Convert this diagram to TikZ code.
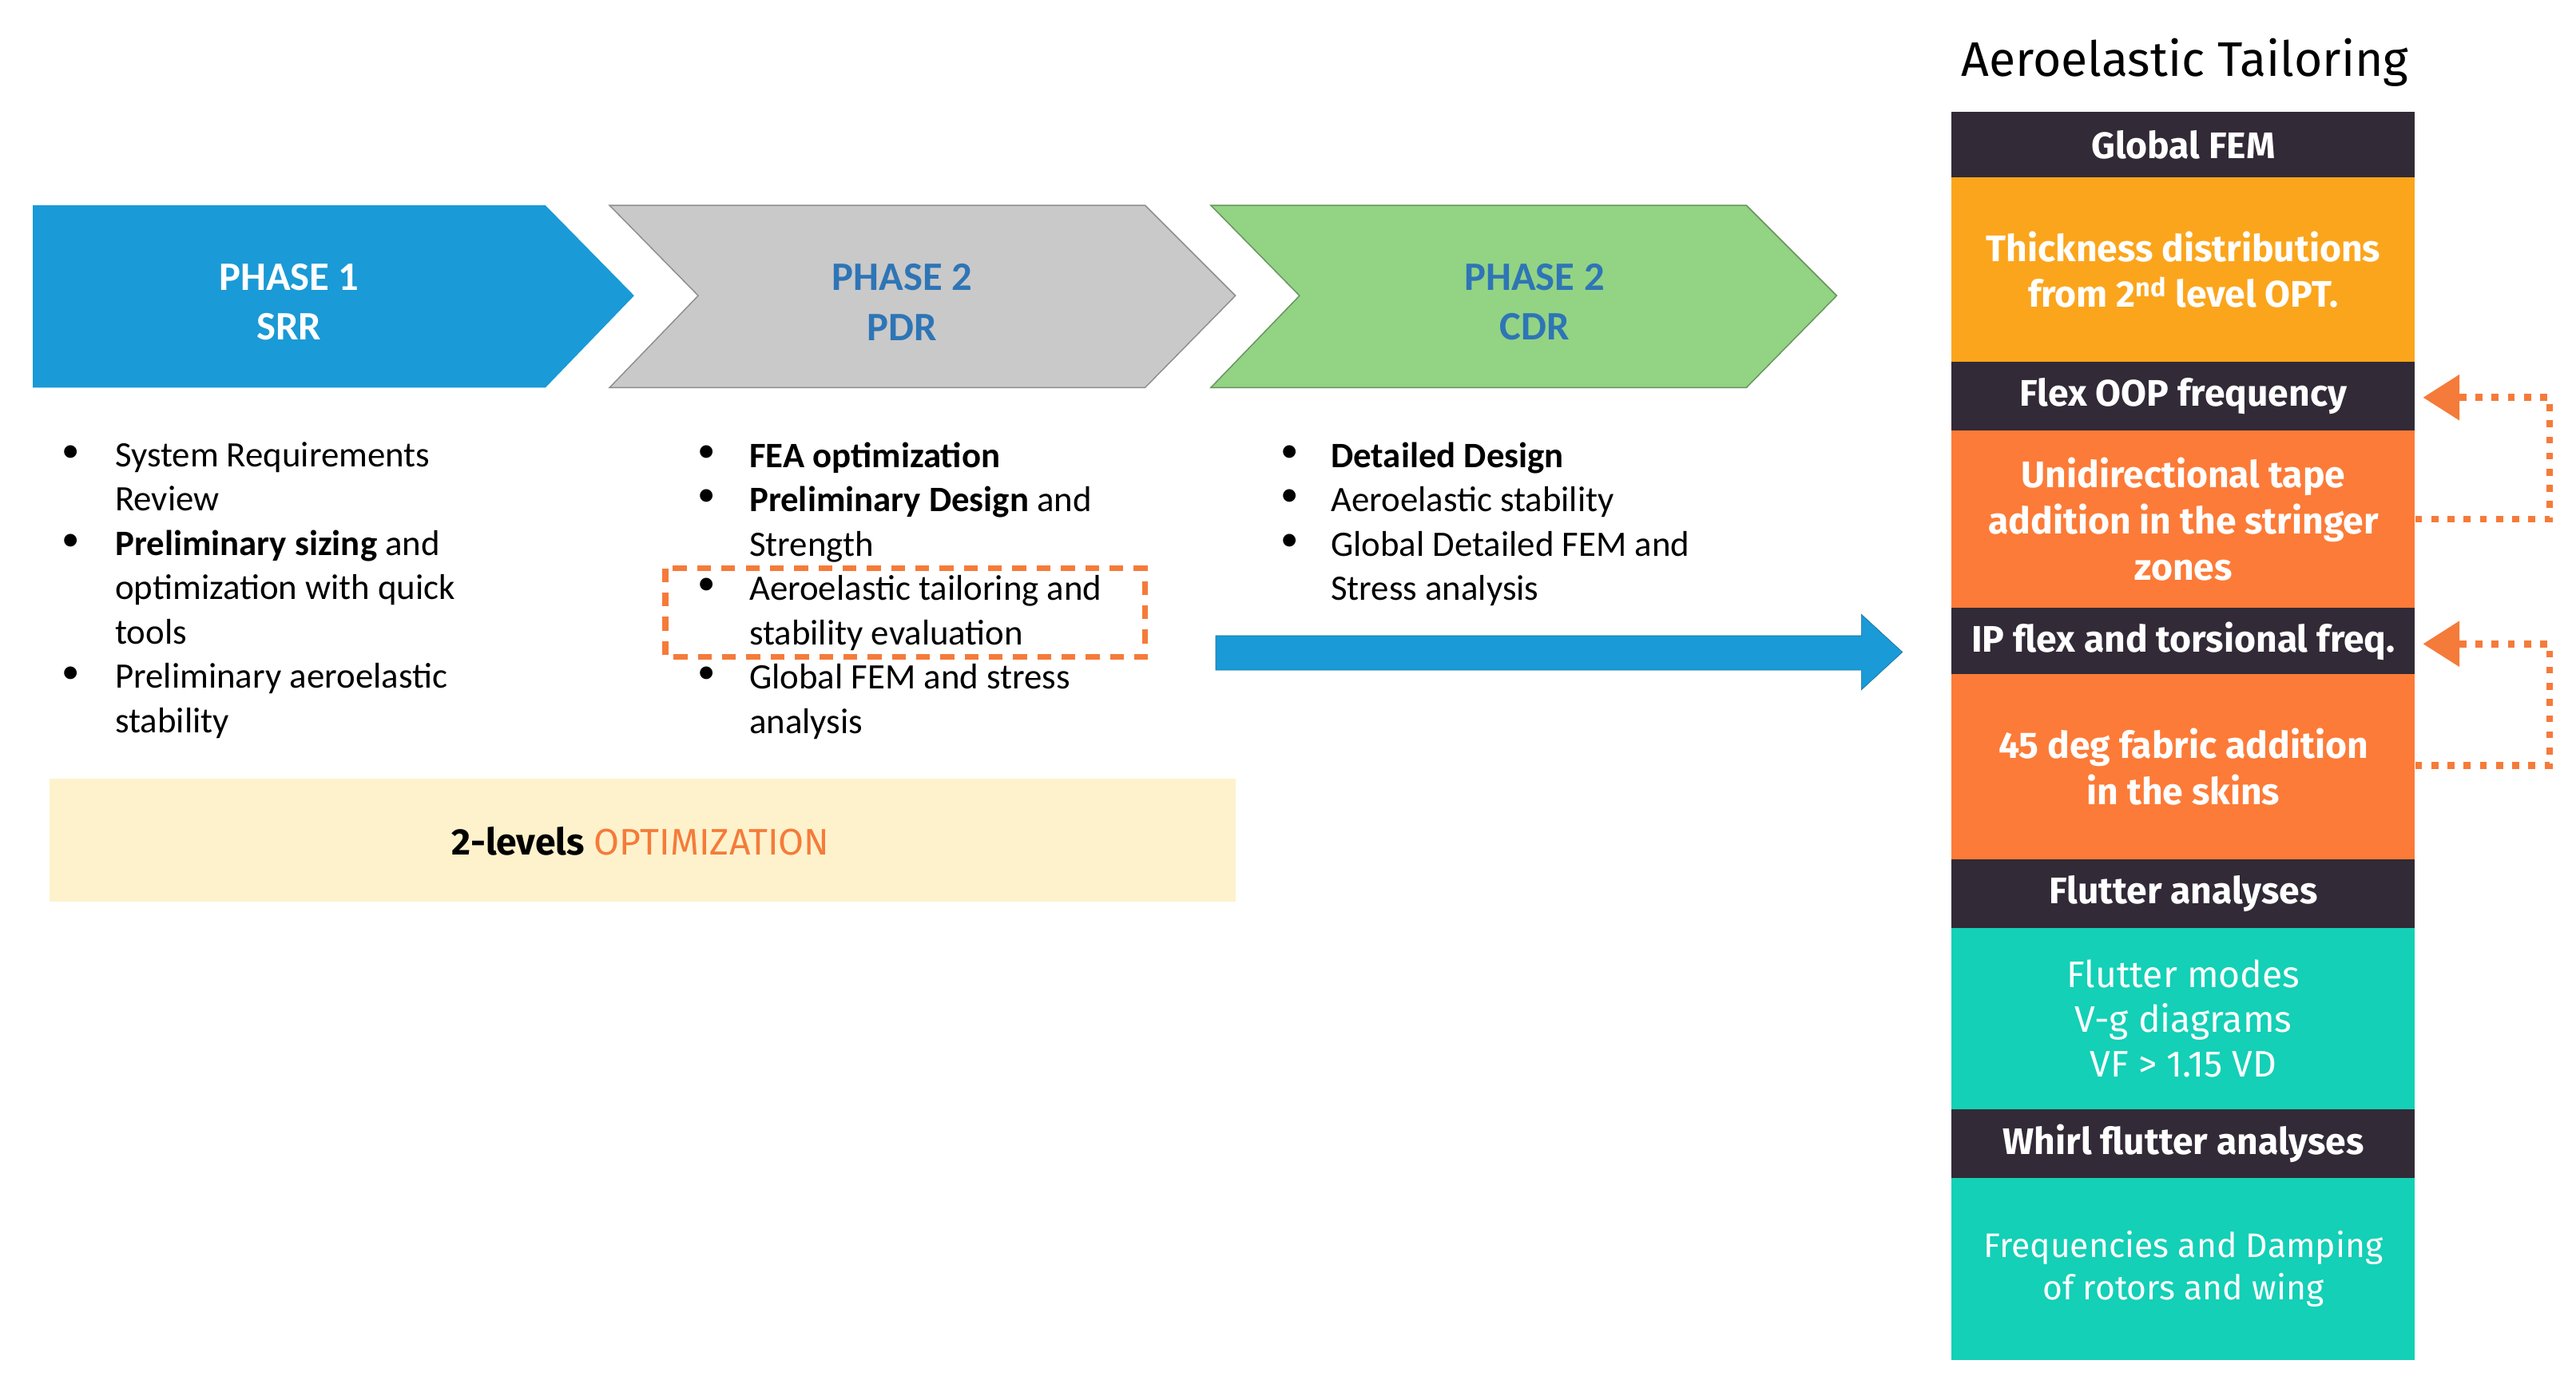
\documentclass[tikz,border=0pt]{standalone}
\usepackage{fontspec}
\setmainfont{Carlito}
\newfontfamily\din{Fira Sans}
\usetikzlibrary{arrows.meta}
\definecolor{pblue}{HTML}{1A9AD6}
\definecolor{pgray}{HTML}{C9C9C9}
\definecolor{pgreen}{HTML}{93D384}
\definecolor{ptxt}{HTML}{2E75B6}
\definecolor{dark}{HTML}{322A36}
\definecolor{yor}{HTML}{FBA51C}
\definecolor{ora}{HTML}{FC7B38}
\definecolor{tealc}{HTML}{13D0B6}
\definecolor{barfill}{RGB}{254,242,204}
\definecolor{dorange}{HTML}{F57B3A}
\begin{document}
\begin{tikzpicture}[x=0.05cm,y=-0.05cm,
  body/.style={anchor=north west,align=left,font=\fontsize{31}{38.4}\selectfont,inner sep=0},
  bul/.style={anchor=north,font=\fontsize{31}{38}\selectfont,inner sep=0},
  ph/.style={font=\fontsize{35}{43}\selectfont\bfseries,align=center},
  hdr/.style={fill=dark,draw=none,text=white,font=\din\fontsize{32}{36}\selectfont\bfseries,minimum width=282*0.05cm,inner sep=0,anchor=north},
  blk/.style={draw=none,text=white,font=\din\fontsize{32}{40}\selectfont\bfseries,align=center,minimum width=282*0.05cm,inner sep=0,anchor=north},
  dsh/.style={draw=dorange,line width=5pt,dash pattern=on 12pt off 9pt},
  dot/.style={draw=dorange,line width=6pt,dash pattern=on 6pt off 8pt}]
\useasboundingbox (0,0) rectangle (1568,845);
% chevrons
\fill[pblue] (20,125)--(332,125)--(386,180)--(332,236)--(20,236)--cycle;
\draw[pgray!70!black,fill=pgray,line width=1pt] (371,125)--(697,125)--(752,180)--(697,236)--(371,236)--(425,180)--cycle;
\draw[pgreen!70!black,fill=pgreen,line width=1pt] (737,125)--(1063,125)--(1118,180)--(1063,236)--(737,236)--(791,180)--cycle;
\node[ph,text=white] (p1) at (176,184) {PHASE 1\\SRR};
\node[ph,text=ptxt] (p2) at (549,184) {PHASE 2\\PDR};
\node[ph,text=ptxt] (p3) at (934,184) {PHASE 2\\CDR};
% bullets
\foreach \y in {271,325,406}{\node[bul] at (43,\y) {•};}
\node[body] (t1) at (70,269) {System Requirements\\Review\\\textbf{Preliminary sizing} and\\optimization with quick\\tools\\Preliminary aeroelastic\\stability};
\foreach \y in {271,298,352,406}{\node[bul] at (430,\y) {•};}
\node[body] (t2) at (456,269) {\textbf{FEA optimization}\\\textbf{Preliminary Design} and\\Strength\\Aeroelastic tailoring and\\stability evaluation\\Global FEM and stress\\analysis};
\foreach \y in {271,298,325}{\node[bul] at (785,\y) {•};}
\node[body] (t3) at (810,269) {\textbf{Detailed Design}\\Aeroelastic stability\\Global Detailed FEM and\\Stress analysis};
\draw[dsh] (405,346) rectangle (697,400);
% blue arrow
\fill[pblue,draw=pblue!70!black] (740,387)--(1133,387)--(1133,374)--(1158,397)--(1133,420)--(1133,408)--(740,408)--cycle;
% yellow bar
\fill[barfill] (30,474) rectangle (752,549);
\node[font=\din\fontsize{32}{36}\selectfont,text=black] (opt) at (390,512) {\textbf{2-levels} \textcolor{dorange}{OPTIMIZATION}};
% right column
\node[font=\din\fontsize{42}{46}\selectfont] (title) at (1330,38) {Aeroelastic Tailoring};
\node[hdr,minimum height=40*0.05cm] (h1) at (1329,68) {Global FEM};
\node[blk,fill=yor,minimum height=112*0.05cm] (b1) at (1329,108) {Thickness distributions\\from 2\textsuperscript{nd} level OPT.};
\node[hdr,minimum height=42*0.05cm] (h2) at (1329,220) {Flex OOP frequency};
\node[blk,fill=ora,minimum height=108*0.05cm] (b2) at (1329,262) {Unidirectional tape\\addition in the stringer\\zones};
\node[hdr,minimum height=40*0.05cm] (h3) at (1329,370) {IP flex and torsional freq.};
\node[blk,fill=ora,minimum height=113*0.05cm] (b3) at (1329,410) {45 deg fabric addition\\in the skins};
\node[hdr,minimum height=42*0.05cm] (h4) at (1329,523) {Flutter analyses};
\node[blk,fill=tealc,minimum height=110*0.05cm,font=\din\fontsize{32}{39}\selectfont] (b4) at (1329,565) {Flutter modes\\V-g diagrams\\VF > 1.15 VD};
\node[hdr,minimum height=42*0.05cm] (h5) at (1329,675) {Whirl flutter analyses};
\node[blk,fill=tealc,minimum height=111*0.05cm,font=\din\fontsize{29.5}{37}\selectfont] (b5) at (1329,717) {Frequencies and Damping\\of rotors and wing};
% dashed feedback arrows
\coordinate (c1) at (1552,316); \coordinate (c2) at (1552,242);
\coordinate (c3) at (1552,466); \coordinate (c4) at (1552,392);
\draw[dot] (b2.east|-c1) -- (c1) -- (c2) -- (1495,242);
\fill[dorange] (1497,228)--(1475,242)--(1497,256)--cycle;
\draw[dot] (b3.east|-c3) -- (c3) -- (c4) -- (1495,392);
\fill[dorange] (1497,378)--(1475,392)--(1497,406)--cycle;
\end{tikzpicture}
\end{document}
